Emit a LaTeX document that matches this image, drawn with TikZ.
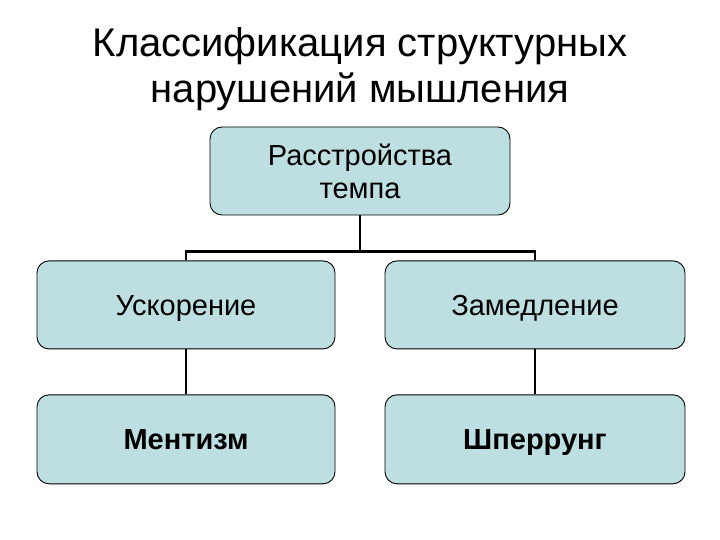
\documentclass[tikz,border=0pt]{standalone}
\usepackage{fontspec}
\setmainfont{Liberation Sans}
\usepackage{tikz}
\usetikzlibrary{positioning}
\definecolor{boxfill}{RGB}{189,223,225}

\begin{document}
\begin{tikzpicture}[x=1pt, y=1pt, node distance=45pt, font=\fontsize{29}{33}\selectfont,
    box/.style={draw, fill=boxfill, rounded corners=12pt, line width=0.9pt, minimum width=298pt, minimum height=88pt, align=center, inner sep=2pt},
    single/.style={text height=21pt, text depth=0pt},
    link/.style={line width=2.2pt}]
    \useasboundingbox (0,0) rectangle (720,-540);

    % Title
    \node[align=center, anchor=base, font=\fontsize{40}{46}\selectfont] (title) at (360,-103) {Классификация структурных\\нарушений мышления};

    % Top box
    \node[box, minimum width=300pt] (tempo) at (360,-171) {Расстройства\\темпа};

    % Second row
    \node[box, single, below=of tempo, xshift=-174pt] (uskor) {Ускорение};
    \node[box, single, below=of tempo, xshift=175pt, minimum width=300pt] (zamed) {Замедление};

    % Third row
    \node[box, single, below=of uskor, minimum height=89pt, font=\fontsize{29}{33}\selectfont\bfseries] (mentizm) {Ментизм};
    \node[box, single, below=of zamed, minimum width=300pt, minimum height=89pt, font=\fontsize{29}{33}\selectfont\bfseries] (sperr) {Шперрунг};

    % Connectors
    \draw[link] (tempo.south) -- ++(0,-36) -| (uskor.north);
    \draw[link] (tempo.south) -- ++(0,-36) -| (zamed.north);
    \draw[link] (uskor.south) -- (mentizm.north);
    \draw[link] (zamed.south) -- (sperr.north);
\end{tikzpicture}
\end{document}
